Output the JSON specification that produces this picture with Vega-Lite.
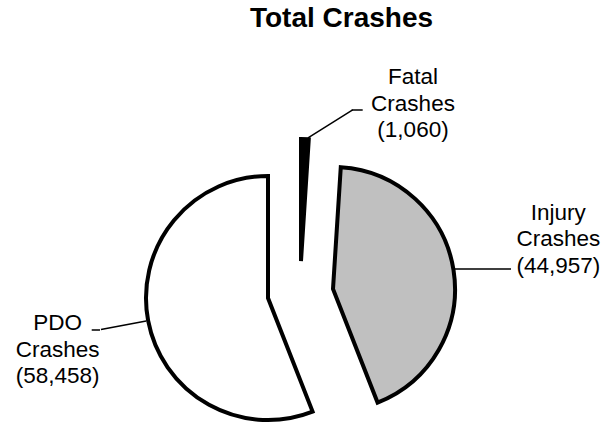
{
  "$schema": "https://vega.github.io/schema/vega-lite/v6.json",
  "width": 612,
  "height": 384,
  "autosize": "none",
  "padding": {"top": 40, "left": 0, "right": 0, "bottom": 0},
  "background": "white",
  "title": {
    "text": "Total Crashes",
    "font": "Liberation Sans",
    "fontSize": 28,
    "fontWeight": "bold",
    "color": "black",
    "anchor": "middle",
    "frame": "group",
    "baseline": "alphabetic",
    "offset": 10.7,
    "dx": 35.5,
    "dy": 25.5
  },
  "config": {"view": {"stroke": null}},
  "data": {
    "values": [
      {"type": "Fatal", "count": 1060, "label": "Fatal\nCrashes\n(1,060)"},
      {"type": "Injury", "count": 44957, "label": "Injury\nCrashes\n(44,957)"},
      {"type": "PDO", "count": 58458, "label": "PDO\nCrashes\n(58,458)"}
    ]
  },
  "transform": [
    {"stack": "count", "groupby": [], "sort": [{"field": "type", "order": "ascending"}], "as": ["s0", "s1"]}
  ],
  "layer": [
    {
      "transform": [{"filter": "datum.type === 'PDO'"}],
      "mark": {"type": "arc", "radius": 122, "stroke": "black", "strokeWidth": 4, "xOffset": -38, "yOffset": 66},
      "encoding": {
        "theta": {"field": "s1", "type": "quantitative"},
        "theta2": {"field": "s0"},
        "color": {"field": "type", "type": "nominal", "scale": {"domain": ["Fatal", "Injury", "PDO"], "range": ["#000000", "#c0c0c0", "#ffffff"]}, "legend": null}
      }
    },
    {
      "transform": [{"filter": "datum.type === 'Injury'"}],
      "mark": {"type": "arc", "radius": 122, "stroke": "black", "strokeWidth": 4, "xOffset": 27, "yOffset": 57},
      "encoding": {
        "theta": {"field": "s1", "type": "quantitative"},
        "theta2": {"field": "s0"},
        "color": {"field": "type", "type": "nominal", "scale": {"domain": ["Fatal", "Injury", "PDO"], "range": ["#000000", "#c0c0c0", "#ffffff"]}, "legend": null}
      }
    },
    {
      "transform": [{"filter": "datum.type === 'Fatal'"}],
      "mark": {"type": "arc", "radius": 122, "stroke": "black", "strokeWidth": 4, "xOffset": -5, "yOffset": 29},
      "encoding": {
        "theta": {"field": "s1", "type": "quantitative"},
        "theta2": {"field": "s0"},
        "color": {"field": "type", "type": "nominal", "scale": {"domain": ["Fatal", "Injury", "PDO"], "range": ["#000000", "#c0c0c0", "#ffffff"]}, "legend": null}
      }
    },
    {
      "transform": [{"filter": "datum.type === 'PDO'"}],
      "mark": {"type": "arc", "radius": 170, "radius2": 124, "thetaOffset": 1.7579, "theta2Offset": 1.7579, "filled": false, "stroke": "black", "strokeWidth": 1.5, "xOffset": -38, "yOffset": 66},
      "encoding": {"theta": {"field": "s0", "type": "quantitative"}, "theta2": {"field": "s0"}}
    },
    {
      "transform": [{"filter": "datum.type === 'PDO'"}],
      "mark": {"type": "arc", "radius": 18.3, "radius2": 10, "thetaOffset": 1.945, "theta2Offset": 1.945, "filled": false, "stroke": "black", "strokeWidth": 1.5, "xOffset": -196, "yOffset": 98},
      "encoding": {"theta": {"field": "s0", "type": "quantitative"}, "theta2": {"field": "s0"}}
    },
    {
      "transform": [{"filter": "datum.type === 'Injury'"}],
      "mark": {"type": "arc", "radius": 178, "radius2": 122, "thetaOffset": 1.5071, "theta2Offset": 1.5071, "filled": false, "stroke": "black", "strokeWidth": 1.5, "xOffset": 27, "yOffset": 37},
      "encoding": {"theta": {"field": "s0", "type": "quantitative"}, "theta2": {"field": "s0"}}
    },
    {
      "transform": [{"filter": "datum.type === 'Fatal'"}],
      "mark": {"type": "arc", "radius": 61, "radius2": 8.3, "thetaOffset": 1.0105, "theta2Offset": 1.0105, "filled": false, "stroke": "black", "strokeWidth": 1.5, "xOffset": -5, "yOffset": -89.6},
      "encoding": {"theta": {"field": "s0", "type": "quantitative"}, "theta2": {"field": "s0"}}
    },
    {
      "transform": [{"filter": "datum.type === 'Fatal'"}],
      "mark": {"type": "arc", "radius": 20, "radius2": 9, "thetaOffset": 1.5708, "theta2Offset": 1.5708, "filled": false, "stroke": "black", "strokeWidth": 1.5, "xOffset": 36.7, "yOffset": -122},
      "encoding": {"theta": {"field": "s0", "type": "quantitative"}, "theta2": {"field": "s0"}}
    },
    {
      "transform": [{"filter": "datum.type === 'Fatal'"}],
      "mark": {"type": "text", "radius": 184, "xOffset": -5, "yOffset": 29, "dx": 112, "dy": -11, "font": "Liberation Sans", "fontSize": 22.5, "lineHeight": 26.5, "lineBreak": "\n", "align": "center", "baseline": "top", "color": "black"},
      "encoding": {"theta": {"field": "s0", "type": "quantitative"}, "text": {"field": "label"}}
    },
    {
      "transform": [{"filter": "datum.type === 'Injury'"}],
      "mark": {"type": "text", "radius": 80, "xOffset": 27, "yOffset": 57, "dx": 220.2, "dy": -7.5, "font": "Liberation Sans", "fontSize": 22.5, "lineHeight": 26.5, "lineBreak": "\n", "align": "center", "baseline": "top", "color": "black"},
      "encoding": {"theta": {"field": "s0", "type": "quantitative"}, "text": {"field": "label"}}
    },
    {
      "transform": [{"filter": "datum.type === 'PDO'"}],
      "mark": {"type": "text", "radius": 27, "xOffset": -38, "yOffset": 66, "dx": -220.2, "dy": -10.9, "font": "Liberation Sans", "fontSize": 22.5, "lineHeight": 26.5, "lineBreak": "\n", "align": "center", "baseline": "top", "color": "black"},
      "encoding": {"theta": {"field": "s0", "type": "quantitative"}, "text": {"field": "label"}}
    }
  ]
}
